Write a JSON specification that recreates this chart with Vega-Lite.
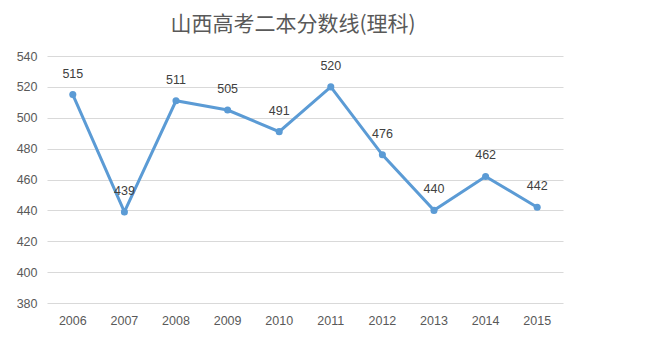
{
  "$schema": "https://vega.github.io/schema/vega-lite/v6.json",
  "autosize": "none",
  "width": 516,
  "height": 247,
  "padding": {"left": 47, "top": 56, "right": 91, "bottom": 61},
  "background": "white",
  "title": {
    "text": "山西高考二本分数线(理科)",
    "font": "Noto Sans CJK SC",
    "fontSize": 21,
    "fontWeight": "normal",
    "color": "#595959",
    "anchor": "middle",
    "offset": 15,
    "dx": -12
  },
  "data": {
    "values": [
      {"year": "2006", "score": 515},
      {"year": "2007", "score": 439},
      {"year": "2008", "score": 511},
      {"year": "2009", "score": 505},
      {"year": "2010", "score": 491},
      {"year": "2011", "score": 520},
      {"year": "2012", "score": 476},
      {"year": "2013", "score": 440},
      {"year": "2014", "score": 462},
      {"year": "2015", "score": 442}
    ]
  },
  "encoding": {
    "x": {
      "field": "year",
      "type": "ordinal",
      "scale": {"type": "band", "paddingInner": 0, "paddingOuter": 0},
      "axis": {
        "title": null,
        "labelAngle": 0,
        "domain": false,
        "ticks": false,
        "labelFont": "Liberation Sans",
        "labelFontSize": 12.5,
        "labelColor": "#595959",
        "labelPadding": 11
      }
    },
    "y": {
      "field": "score",
      "type": "quantitative",
      "scale": {"domain": [380, 540], "nice": false, "zero": false},
      "axis": {
        "title": null,
        "values": [380, 400, 420, 440, 460, 480, 500, 520, 540],
        "domain": false,
        "ticks": false,
        "gridColor": "#D9D9D9",
        "labelFont": "Liberation Sans",
        "labelFontSize": 12.5,
        "labelColor": "#595959",
        "labelPadding": 10
      }
    }
  },
  "layer": [
    {
      "mark": {"type": "line", "color": "#5B9BD5", "strokeWidth": 3}
    },
    {
      "mark": {"type": "point", "filled": true, "color": "#5B9BD5", "size": 50, "opacity": 1}
    },
    {
      "mark": {"type": "text", "dy": -21, "font": "Liberation Sans", "fontSize": 12.5, "color": "#404040"},
      "encoding": {"text": {"field": "score", "type": "quantitative"}}
    }
  ],
  "config": {"view": {"stroke": null}}
}
